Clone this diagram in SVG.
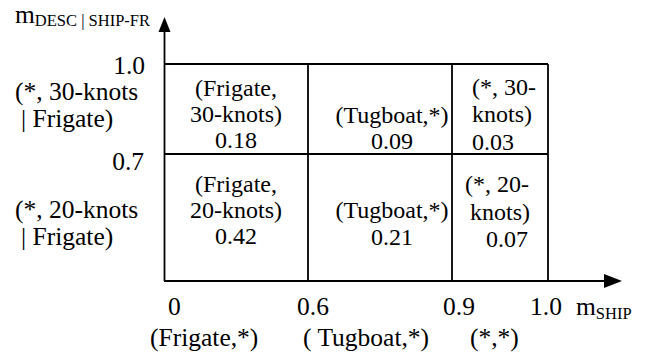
<svg xmlns="http://www.w3.org/2000/svg" width="645" height="358" viewBox="0 0 645 358">
<style>
.ln{stroke:#000;stroke-width:1.8;fill:none}
.ah{fill:#000}
.t{font-family:'Liberation Serif','DejaVu Serif',serif;fill:#000}
.ax{font-size:25.5px}
.sub{font-size:16.5px}
.c{font-size:24px}
.mid{text-anchor:middle}
.end{text-anchor:end}
</style>
<rect width="645" height="358" fill="#fff"/>
<g id="connectors">
<line class="ln" x1="164.5" y1="281" x2="164.5" y2="30"/>
<polygon class="ah" points="164.5,17 158.5,32 170.5,32"/>
<line class="ln" x1="164" y1="281" x2="605" y2="281"/>
<polygon class="ah" points="622,281 604,274 604,288"/>
<line class="ln" x1="164" y1="64" x2="548" y2="64"/>
<line class="ln" x1="164" y1="154" x2="548" y2="154"/>
<line class="ln" x1="308" y1="64" x2="308" y2="281"/>
<line class="ln" x1="452" y1="64" x2="452" y2="281"/>
<line class="ln" x1="548" y1="64" x2="548" y2="281"/>
</g>
<g class="t" font-family="Liberation Serif, serif">
<g id="y-axis-label"><text class="ax" x="15" y="23">m<tspan class="sub" dy="3">DESC | SHIP-FR</tspan></text></g>
<g id="y-labels">
<text class="ax end" x="145" y="74">1.0</text>
<text class="ax" x="15" y="100">(*, 30-knots</text>
<text class="ax" x="21" y="127">| Frigate)</text>
<text class="ax end" x="144" y="170">0.7</text>
<text class="ax" x="15" y="218">(*, 20-knots</text>
<text class="ax" x="21" y="245">| Frigate)</text>
</g>
<g id="x-labels">
<text class="ax" x="168" y="315">0</text>
<text class="ax" x="297" y="315">0.6</text>
<text class="ax" x="443" y="315">0.9</text>
<text class="ax" x="530" y="315">1.0</text>
<text class="ax" x="576" y="315">m<tspan class="sub" dy="4">SHIP</tspan></text>
<text class="ax" x="150" y="346">(Frigate,*)</text>
<text class="ax" x="303" y="346">( Tugboat,*)</text>
<text class="ax" x="470" y="346">(*,*)</text>
</g>
<g id="cell-frigate-30">
<text class="c mid" x="236" y="96">(Frigate,</text>
<text class="c mid" x="236" y="122">30-knots)</text>
<text class="c mid" x="236" y="148">0.18</text>
</g>
<g id="cell-tugboat-30">
<text class="c mid" x="392" y="123">(Tugboat,*)</text>
<text class="c mid" x="392" y="149">0.09</text>
</g>
<g id="cell-any-30">
<text class="c" x="472" y="95">(*, 30-</text>
<text class="c" x="472" y="122">knots)</text>
<text class="c" x="472" y="150">0.03</text>
</g>
<g id="cell-frigate-20">
<text class="c mid" x="236" y="192">(Frigate,</text>
<text class="c mid" x="236" y="218">20-knots)</text>
<text class="c mid" x="236" y="244">0.42</text>
</g>
<g id="cell-tugboat-20">
<text class="c mid" x="392" y="218">(Tugboat,*)</text>
<text class="c mid" x="392" y="245">0.21</text>
</g>
<g id="cell-any-20">
<text class="c end" x="529" y="192">(*, 20-</text>
<text class="c end" x="530" y="220">knots)</text>
<text class="c end" x="528" y="247">0.07</text>
</g>
</g>
</svg>
